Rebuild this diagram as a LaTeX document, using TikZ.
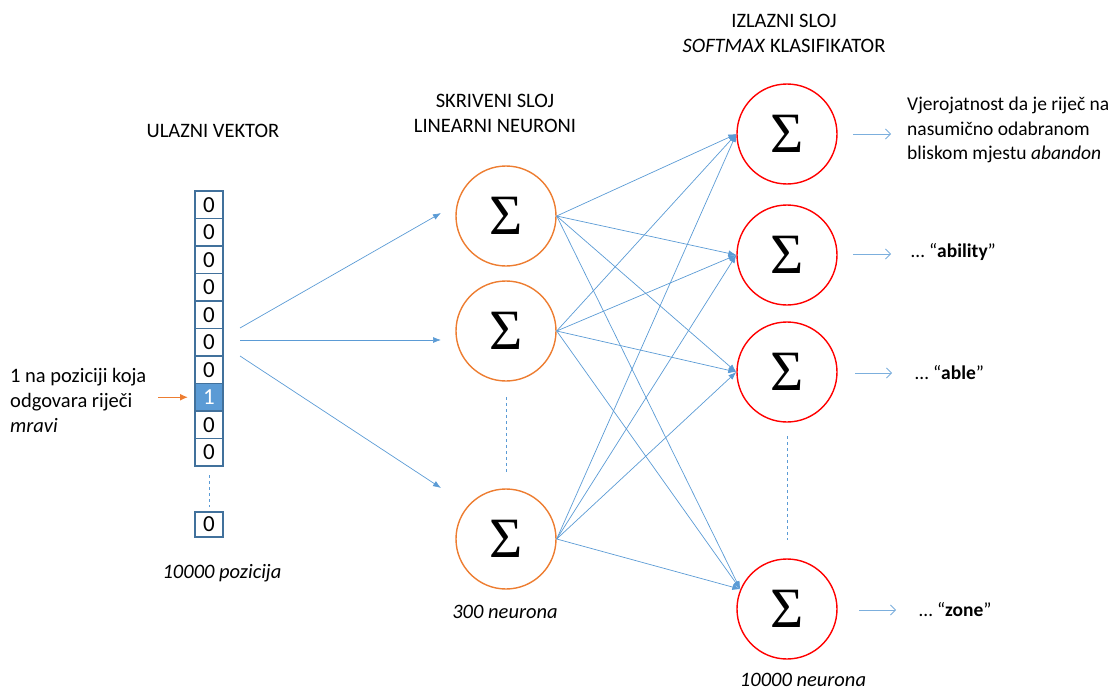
\documentclass[tikz,border=0pt]{standalone}
\usepackage{fontspec}
\setmainfont{Carlito}
\newfontfamily\sigfont{Liberation Serif}
\usetikzlibrary{arrows.meta}
\definecolor{lblue}{HTML}{5B9BD5}
\definecolor{cellb}{HTML}{41719C}
\definecolor{orng}{HTML}{ED7D31}
\definecolor{rd}{HTML}{FF0000}
\begin{document}
\begin{tikzpicture}[x=1pt,y=-1pt,
  txt/.style={font=\fontsize{20.5}{25}\selectfont, inner sep=0pt},
  rtxt/.style={font=\fontsize{19.5}{24.5}\selectfont, inner sep=0pt},
  itxt/.style={font=\fontsize{20.5}{25}\selectfont\itshape, inner sep=0pt},
  cell/.style={draw=cellb, line width=1.2pt, minimum width=28pt, minimum height=27.5pt, inner sep=0pt, font=\fontsize{23}{23}\selectfont},
  hid/.style={circle, draw=orng, line width=1.4pt, minimum size=100pt, inner sep=0pt},
  outn/.style={circle, draw=rd, line width=1.4pt, minimum size=100pt, inner sep=0pt},
  sig/.style={font=\sigfont\fontsize{57}{57}\selectfont, inner sep=0pt},
  conn/.style={draw=lblue, line width=0.7pt, -{Latex[length=8pt,width=6pt]}},
  outarr/.style={draw=lblue!80, line width=0.8pt, -{Straight Barb[length=5pt,width=10pt]}},
  dashline/.style={draw=lblue, dash pattern=on 3pt off 3pt, line width=0.7pt}
]
\useasboundingbox (0,0) rectangle (1117,693);
% titles
\node[txt] (t1) at (213,131) {ULAZNI VEKTOR};
\node[txt, align=center] (t2) at (495,113) {SKRIVENI SLOJ\\LINEARNI NEURONI};
\node[txt, align=center] (t3) at (784,33) {IZLAZNI SLOJ\\\textit{SOFTMAX} KLASIFIKATOR};
% input vector
\foreach \i/\v in {1/0,2/0,3/0,4/0,5/0,6/0,7/0,9/0,10/0}{
  \node[cell] (c\i) at (209,{191+27.5*(\i-0.5)}) {\v};
}
\node[cell, fill=lblue, text=white] (c8) at (209,{191+27.5*7.5}) {1};
\node[cell, minimum height=25pt] (clast) at (209,524.5) {0};
\coordinate (d1) at (209,475);
\coordinate (d2) at (209,507);
\draw[dashline] (d1) -- (d2);
\node[itxt] (pz) at (222,573) {10000 pozicija};
% left text and orange arrow
\node[txt, align=left, anchor=west] (lt) at (10,400) {1 na poziciji koja\\odgovara riječi\\\textit{mravi}};
\coordinate (oa) at (158,397.25);
\coordinate (ob) at (188,397.25);
\draw[draw=orng, line width=1.5pt, -{Latex[length=8pt,width=7pt]}] (oa) -- (ob);
% hidden neurons
\node[hid] (h1) at (506,216) {}; \node[sig] at (h1) {Σ};
\node[hid] (h2) at (506,331) {}; \node[sig] at (h2) {Σ};
\node[hid] (h3) at (506,539) {}; \node[sig] at (h3) {Σ};
\coordinate (hd1) at (506,397);
\coordinate (hd2) at (506,472);
\draw[dashline] (hd1) -- (hd2);
\node[itxt] (hn) at (505,612) {300 neurona};
% input arrows
\coordinate (s1) at (240,328);
\coordinate (s2) at (240,340);
\coordinate (s3) at (240,356);
\coordinate (e1) at (441,213);
\coordinate (e2) at (441,340);
\coordinate (e3) at (441,488);
\draw[conn] (s1) -- (e1);
\draw[conn] (s2) -- (e2);
\draw[conn] (s3) -- (e3);
% output neurons
\node[outn] (o1) at (787,134) {}; \node[sig] at (o1) {Σ};
\node[outn] (o2) at (787,255) {}; \node[sig] at (o2) {Σ};
\node[outn] (o3) at (787,372) {}; \node[sig] at (o3) {Σ};
\node[outn] (o4) at (787,609) {}; \node[sig] at (o4) {Σ};
\coordinate (od1) at (787,436);
\coordinate (od2) at (787,540);
\draw[dashline] (od1) -- (od2);
\node[itxt] (on) at (803,680) {10000 neurona};
% connections hidden -> output
\foreach \h in {h1,h2,h3}{
  \draw[conn] (\h.east) -- (o1.west);
  \draw[conn] (\h.east) -- (o2.west);
  \draw[conn] (\h.east) -- (o3.west);
  \draw[conn] (\h.east) -- (o4.157);
}
% output arrows and labels
\coordinate (a1) at (853,134); \coordinate (b1) at (891,134);
\coordinate (a2) at (853,254); \coordinate (b2) at (891,254);
\coordinate (a3) at (855,373); \coordinate (b3) at (892,373);
\coordinate (a4) at (859,610); \coordinate (b4) at (896,610);
\draw[outarr] (a1) -- (b1);
\draw[outarr] (a2) -- (b2);
\draw[outarr] (a3) -- (b3);
\draw[outarr] (a4) -- (b4);
\node[rtxt, align=left, anchor=west] (l1) at (907,130) {Vjerojatnost da je riječ na\\nasumično odabranom\\bliskom mjestu \textit{abandon}};
\node[rtxt, anchor=west] (l2) at (911,252) {… “\textbf{ability}”};
\node[rtxt, anchor=west] (l3) at (915,373) {… “\textbf{able}”};
\node[rtxt, anchor=west] (l4) at (919,610) {… “\textbf{zone}”};
\end{tikzpicture}
\end{document}
